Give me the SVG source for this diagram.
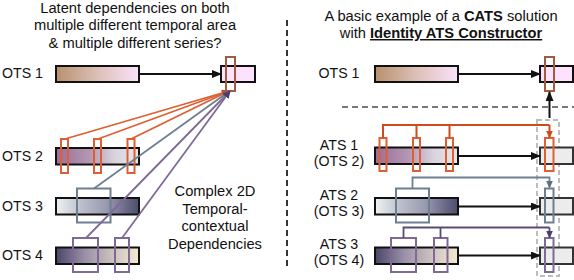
<svg xmlns="http://www.w3.org/2000/svg" width="574" height="280" viewBox="0 0 574 280">
<style>
text{font-family:"Liberation Sans",Arial,sans-serif;fill:#111}
.t{font-size:14.7px}
.l{font-size:14.2px}
.bar{stroke:#111;stroke-width:2}
.tgt{fill:#ececec;stroke:#333;stroke-width:2}
.hl{fill:none;stroke-width:2}
.or{stroke:#df5f33}
.sl{stroke:#6e7f92}
.pu{stroke:#7e6a94}
.br{stroke:#a45a3e}
.ln{fill:none;stroke-width:1.8}
.k{stroke:#111;stroke-width:2;fill:none}
</style>
<defs>
<linearGradient id="g1"><stop offset="0" stop-color="#b8916c"/><stop offset="0.5" stop-color="#dcc0b8"/><stop offset="1" stop-color="#fae2fa"/></linearGradient>
<linearGradient id="g2"><stop offset="0" stop-color="#9a6e98"/><stop offset="0.4" stop-color="#b396b2"/><stop offset="0.7" stop-color="#d8d2dc"/><stop offset="1" stop-color="#e6e8ec"/></linearGradient>
<linearGradient id="g3"><stop offset="0" stop-color="#eef2f2"/><stop offset="0.3" stop-color="#bcc0cc"/><stop offset="0.6" stop-color="#9a9ab2"/><stop offset="1" stop-color="#4c4c6c"/></linearGradient>
<linearGradient id="g4"><stop offset="0" stop-color="#4a4668"/><stop offset="0.35" stop-color="#9a90a8"/><stop offset="0.7" stop-color="#cfc4c0"/><stop offset="1" stop-color="#f4e8d2"/></linearGradient>
<marker id="ak" markerWidth="10" markerHeight="8" refX="9" refY="4" orient="auto" markerUnits="userSpaceOnUse"><path d="M0,0 L10,4 L0,8 z" fill="#111"/></marker>
<marker id="ao" markerWidth="8" markerHeight="7" refX="7" refY="3.5" orient="auto" markerUnits="userSpaceOnUse"><path d="M0,0 L8,3.5 L0,7 z" fill="#d04a1c"/></marker>
<marker id="as" markerWidth="8" markerHeight="7" refX="7" refY="3.5" orient="auto" markerUnits="userSpaceOnUse"><path d="M0,0 L8,3.5 L0,7 z" fill="#5e6e82"/></marker>
<marker id="ap" markerWidth="8" markerHeight="7" refX="7" refY="3.5" orient="auto" markerUnits="userSpaceOnUse"><path d="M0,0 L8,3.5 L0,7 z" fill="#4e3e6c"/></marker>
</defs>

<g id="titles">
<text class="t" text-anchor="middle" x="135" y="12.7">Latent dependencies on both</text>
<text class="t" text-anchor="middle" x="135" y="30.2">multiple different temporal area</text>
<text class="t" text-anchor="middle" x="135" y="47.7">&amp; multiple different series?</text>
<text class="t" text-anchor="middle" x="441" y="21">A basic example of a <tspan font-weight="bold">CATS</tspan> solution</text>
<text class="t" text-anchor="middle" x="441" y="38">with <tspan font-weight="bold" text-decoration="underline">Identity ATS Constructor</tspan></text>
<text class="t" text-anchor="middle" x="215" y="195.7">Complex 2D</text>
<text class="t" text-anchor="middle" x="215" y="213.5">Temporal-</text>
<text class="t" text-anchor="middle" x="215" y="231">contextual</text>
<text class="t" text-anchor="middle" x="215" y="248.5">Dependencies</text>
</g>

<g id="dividers">
<line x1="287" y1="20" x2="287" y2="266" stroke="#333" stroke-width="2" stroke-dasharray="6,4"/>
<line x1="342" y1="107" x2="574" y2="107" stroke="#777" stroke-width="2" stroke-dasharray="6,4"/>
<rect x="537" y="120" width="22" height="156" fill="none" stroke="#bdbdbd" stroke-width="2" stroke-dasharray="5,3"/>
</g>

<g id="left-ots1">
<text class="l" x="2" y="77.7">OTS 1</text>
<rect class="bar" x="56" y="66" width="83" height="16" fill="url(#g1)"/>
</g>
<g id="left-ots1-target">
<rect class="bar" x="221" y="66" width="34" height="16" fill="#fde2fd"/>
<rect class="hl br" x="226" y="57" width="9" height="34"/>
</g>
<g id="left-ots2">
<text class="l" x="2" y="160.7">OTS 2</text>
<rect class="bar" x="56" y="148" width="83" height="16.5" fill="url(#g2)"/>
<rect class="hl or" x="61" y="139" width="7" height="34"/>
<rect class="hl or" x="94" y="139" width="7" height="34"/>
<rect class="hl or" x="127.5" y="139" width="7" height="34"/>
</g>
<g id="left-ots3">
<text class="l" x="2" y="211">OTS 3</text>
<rect class="bar" x="56" y="198" width="83" height="16.5" fill="url(#g3)"/>
<rect class="hl sl" x="77" y="188.5" width="33.5" height="34"/>
</g>
<g id="left-ots4">
<text class="l" x="2" y="260">OTS 4</text>
<rect class="bar" x="56" y="247.5" width="83" height="16.5" fill="url(#g4)"/>
<rect class="hl pu" x="73" y="238" width="25" height="34"/>
<rect class="hl pu" x="115" y="238" width="14" height="34"/>
</g>

<g id="right-ots1">
<text class="l" text-anchor="middle" x="339" y="78">OTS 1</text>
<rect class="bar" x="375" y="66" width="83" height="16" fill="url(#g1)"/>
</g>
<g id="right-ots1-target">
<rect class="bar" x="540" y="66" width="33" height="16" fill="#fde2fd"/>
<rect class="hl br" x="545" y="57" width="9" height="34"/>
</g>
<g id="ats1">
<text class="l" text-anchor="middle" x="339" y="149.5">ATS 1</text>
<text class="l" text-anchor="middle" x="339" y="166">(OTS 2)</text>
<rect class="bar" x="375" y="147.5" width="83" height="16.5" fill="url(#g2)"/>
<rect class="hl or" x="379.5" y="138" width="7" height="33"/>
<rect class="hl or" x="413" y="138" width="7" height="33"/>
<rect class="hl or" x="446" y="138" width="7" height="33"/>
</g>
<g id="ats1-target">
<rect class="tgt" x="540" y="147.5" width="33" height="16.5"/>
<rect class="hl or" x="545" y="138" width="8.5" height="33"/>
</g>
<g id="ats2">
<text class="l" text-anchor="middle" x="339" y="199.5">ATS 2</text>
<text class="l" text-anchor="middle" x="339" y="216">(OTS 3)</text>
<rect class="bar" x="375" y="198" width="83" height="16.5" fill="url(#g3)"/>
<rect class="hl sl" x="396" y="188.5" width="33" height="34"/>
</g>
<g id="ats2-target">
<rect class="tgt" x="540" y="198" width="33" height="16.5"/>
<rect class="hl sl" x="545" y="188.5" width="8.5" height="34"/>
</g>
<g id="ats3">
<text class="l" text-anchor="middle" x="339" y="248.5">ATS 3</text>
<text class="l" text-anchor="middle" x="339" y="265">(OTS 4)</text>
<rect class="bar" x="375" y="247.5" width="83" height="16.5" fill="url(#g4)"/>
<rect class="hl pu" x="391" y="238" width="25" height="34"/>
<rect class="hl pu" x="434" y="238" width="13.5" height="34"/>
</g>
<g id="ats3-target">
<rect class="tgt" x="540" y="247.5" width="33" height="16.5"/>
<rect class="hl pu" x="545" y="238" width="8.5" height="34"/>
</g>

<g id="connectors">
<line class="k" x1="139" y1="74" x2="221" y2="74" marker-end="url(#ak)"/>
<line class="ln or" x1="65" y1="139" x2="229" y2="91" marker-end="url(#ao)"/>
<line class="ln or" x1="98" y1="139" x2="229" y2="91" marker-end="url(#ao)"/>
<line class="ln or" x1="131" y1="139" x2="229" y2="91" marker-end="url(#ao)"/>
<line class="ln sl" x1="94" y1="188.5" x2="229.5" y2="91" marker-end="url(#as)"/>
<line class="ln pu" x1="86" y1="238" x2="230" y2="91" marker-end="url(#ap)"/>
<line class="ln pu" x1="122" y1="238" x2="230" y2="91" marker-end="url(#ap)"/>

<line class="k" x1="458" y1="74" x2="540" y2="74" marker-end="url(#ak)"/>
<line class="k" x1="458" y1="156" x2="540" y2="156" marker-end="url(#ak)"/>
<line class="k" x1="458" y1="206.5" x2="540" y2="206.5" marker-end="url(#ak)"/>
<line class="k" x1="458" y1="255.5" x2="540" y2="255.5" marker-end="url(#ak)"/>
<line class="k" x1="549.5" y1="118" x2="549.5" y2="92" marker-end="url(#ak)"/>

<path d="M383,138 V125 H549.5 M416.5,138 V125 M449.5,138 V125" fill="none" stroke="#d04a1c" stroke-width="2"/>
<path d="M549.5,125 V137.5" fill="none" stroke="#d04a1c" stroke-width="2" marker-end="url(#ao)"/>
<path d="M412.5,188.5 V177.5 H549.5 V187.5" fill="none" stroke="#6e7f92" stroke-width="1.8" marker-end="url(#as)"/>
<path d="M403.5,238 V227.5 H549.5 M440.5,238 V227.5" fill="none" stroke="#5a4a78" stroke-width="1.8"/>
<path d="M549.5,227.5 V237.5" fill="none" stroke="#5a4a78" stroke-width="1.8" marker-end="url(#ap)"/>
</g>
</svg>
